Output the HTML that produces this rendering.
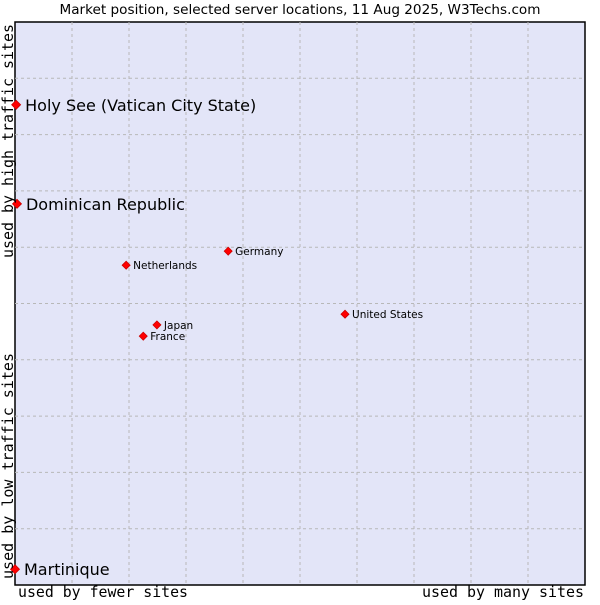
<!DOCTYPE html>
<html><head><meta charset="utf-8"><style>
body{margin:0;background:#fff;}
svg text{font-family:"DejaVu Sans","Liberation Sans",sans-serif;fill:#000;}
.mono{font-family:"DejaVu Sans Mono","Liberation Mono",monospace;font-size:15px;}
</style></head><body>
<svg id="chart" width="600" height="600" xmlns="http://www.w3.org/2000/svg">
<text x="300" y="14" font-size="13.3" text-anchor="middle" textLength="481" lengthAdjust="spacingAndGlyphs">Market position, selected server locations, 11 Aug 2025, W3Techs.com</text>
<rect x="15" y="22" width="570" height="563" fill="#e3e5f8" stroke="#000" stroke-width="1.5"/>
<g id="grid"></g>
<g id="points"></g>
<text class="mono" x="18" y="597" textLength="170" lengthAdjust="spacingAndGlyphs">used by fewer sites</text>
<text class="mono" x="584" y="597" text-anchor="end" textLength="162" lengthAdjust="spacingAndGlyphs">used by many sites</text>
<text class="mono" transform="translate(13,141) rotate(-90)" text-anchor="middle" textLength="234" lengthAdjust="spacingAndGlyphs">used by high traffic sites</text>
<text class="mono" transform="translate(13,466) rotate(-90)" text-anchor="middle" textLength="226" lengthAdjust="spacingAndGlyphs">used by low traffic sites</text>
</svg>
<script>
const names=["Holy See (Vatican City State)","Dominican Republic","Martinique","Netherlands","Germany","United States","Japan","France"];
const xVals=[0.2,0.35,0,19.5,37.4,57.9,24.9,22.5];
const yVals=[85.3,67.7,2.8,56.8,59.3,48.1,46.2,44.2];
const bigLabel=[true,true,true,false,false,false,false,false];
const NS="http://www.w3.org/2000/svg";
const X0=15,X1=585,Y0=585,Y1=22;
function sx(v){return X0+v/100*(X1-X0);}
function sy(v){return Y0-v/100*(Y0-Y1);}
const grid=document.getElementById('grid');
for(let i=1;i<10;i++){
  const vl=document.createElementNS(NS,'line');
  
  
  vl.setAttribute('x1',sx(i*10));vl.setAttribute('x2',sx(i*10));vl.setAttribute('y1',Y1);vl.setAttribute('y2',Y0);
  vl.setAttribute('stroke','#b8b8b8');vl.setAttribute('stroke-dasharray','3,3');
  grid.appendChild(vl);
  const hl=document.createElementNS(NS,'line');
  
  
  hl.setAttribute('x1',X0);hl.setAttribute('x2',X1);hl.setAttribute('y1',sy(i*10));hl.setAttribute('y2',sy(i*10));
  hl.setAttribute('stroke','#b8b8b8');hl.setAttribute('stroke-dasharray','3,3');
  grid.appendChild(hl);
}
const pts=document.getElementById('points');
for(let i=0;i<names.length;i++){
  const cx=sx(xVals[i]),cy=sy(yVals[i]);
  const r=bigLabel[i]?4.5:4;
  const d=document.createElementNS(NS,'path');
  
  
  d.setAttribute('d',`M${cx-r},${cy} L${cx},${cy-r} L${cx+r},${cy} L${cx},${cy+r} Z`);
  d.setAttribute('fill','#ff0000');d.setAttribute('stroke','#cc0000');d.setAttribute('stroke-width','0.8');
  pts.appendChild(d);
  const t=document.createElementNS(NS,'text');
  
  
  t.setAttribute('x',cx+(bigLabel[i]?9:7));
  t.setAttribute('y',cy+(bigLabel[i]?6:4));
  t.setAttribute('font-size',bigLabel[i]?'16':'10.5');
  t.textContent=names[i];
  pts.appendChild(t);
}
</script>
</body></html>
